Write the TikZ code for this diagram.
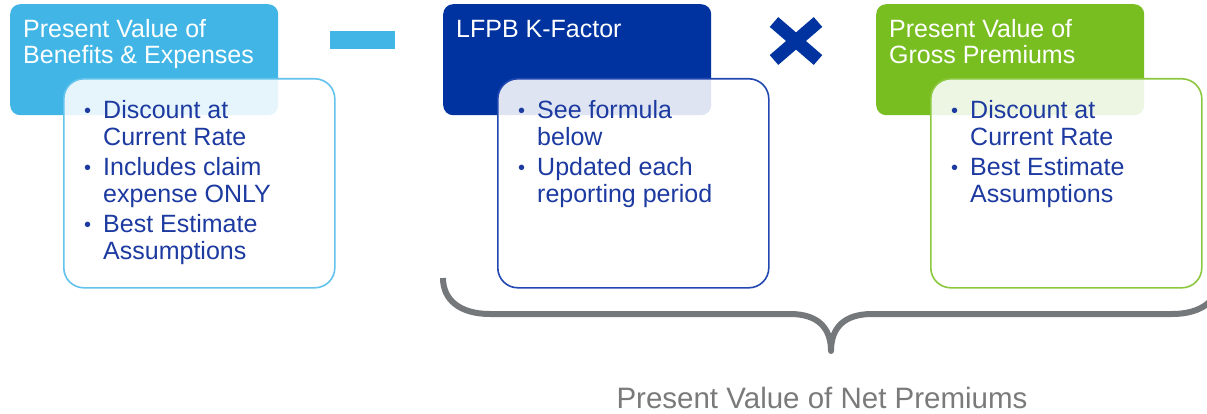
\documentclass[tikz,border=0pt]{standalone}
\usepackage{fontspec}
\setmainfont{Liberation Sans}
\usepackage{array}
\definecolor{cA}{HTML}{41B6E6}
\definecolor{cB}{HTML}{0033A0}
\definecolor{cC}{HTML}{78BE20}
\definecolor{cAb}{HTML}{62C3EC}
\definecolor{cBb}{HTML}{2347B0}
\definecolor{cCb}{HTML}{8CC83E}
\definecolor{bultext}{RGB}{28,58,160}
\definecolor{bracegray}{HTML}{75787B}
\definecolor{labelgray}{HTML}{7A7A7A}
\newcommand\bu{{\fontsize{20}{20}\selectfont\raisebox{1.5pt}{•}}}
\tikzset{
  headbox/.style={rounded corners=10pt, inner sep=0pt, anchor=north west,
    minimum width=268pt, minimum height=111pt},
  cardbox/.style={rounded corners=20pt, inner sep=0pt, anchor=north west,
    line width=1.6pt, fill=white, fill opacity=0.87,
    minimum width=271pt, minimum height=209pt},
  headtext/.style={inner sep=0pt, anchor=base west, text=white,
    font=\fontsize{25}{26}\selectfont},
  bultxt/.style={inner sep=0pt, anchor=base west, text=bultext,
    font=\fontsize{25}{27}\selectfont},
  bracepath/.style={draw=bracegray, line width=6pt, line join=round},
}
\begin{document}
\begin{tikzpicture}[x=1pt,y=-1pt]
\useasboundingbox (0,0) rectangle (1207,414);
\clip (0,0) rectangle (1207,414);

% header boxes
\node[headbox, fill=cA] (hA) at (10,4) {};
\node[headbox, fill=cB] (hB) at (443,4) {};
\node[headbox, fill=cC] (hC) at (876,4) {};

% cards
\node[cardbox, draw=cAb] (kA) at (63,78) {};
\node[cardbox, draw=cBb] (kB) at (497,78) {};
\node[cardbox, draw=cCb] (kC) at (930,78) {};

% header texts
\node[headtext] (tA) at (23,38) {\begin{tabular}[t]{@{}l@{}}Present Value of\\Benefits \& Expenses\end{tabular}};
\node[headtext] (tB) at (456,38) {LFPB K-Factor};
\node[headtext] (tC) at (889,38) {\begin{tabular}[t]{@{}l@{}}Present Value of\\Gross Premiums\end{tabular}};

% bullet texts
\node[bultxt] (bA) at (84,119) {\begin{tabular}[t]{@{}p{19pt}@{}l@{}}
\bu & Discount at\\ & Current Rate\\[3pt]
\bu & Includes claim\\ & expense ONLY\\[3pt]
\bu & Best Estimate\\ & Assumptions\end{tabular}};
\node[bultxt] (bB) at (518,119) {\begin{tabular}[t]{@{}p{19pt}@{}l@{}}
\bu & See formula\\ & below\\[3pt]
\bu & Updated each\\ & reporting period\end{tabular}};
\node[bultxt] (bC) at (951,119) {\begin{tabular}[t]{@{}p{19pt}@{}l@{}}
\bu & Discount at\\ & Current Rate\\[3pt]
\bu & Best Estimate\\ & Assumptions\end{tabular}};

% operators
\node[fill=cA, inner sep=0pt, anchor=north west, minimum width=65pt, minimum height=18pt] (minus) at (330,31) {};
\coordinate (times) at (796,41);
\draw[cB, line width=13pt] (774,22) -- (818,60);
\draw[cB, line width=13pt] (818,22) -- (774,60);

% brace
\draw[bracepath] (443,278) .. controls (443,300) and (460,314) .. (490,314) -- (790,314)
  .. controls (818,314) and (831,328) .. (831,351)
  .. controls (831,328) and (844,314) .. (872,314) -- (1172,314)
  .. controls (1202,314) and (1219,300) .. (1219,278);

\node[inner sep=0pt, anchor=base, text=labelgray, font=\fontsize{29.5}{30}\selectfont] (net) at (822,408) {Present Value of Net Premiums};
\end{tikzpicture}
\end{document}
